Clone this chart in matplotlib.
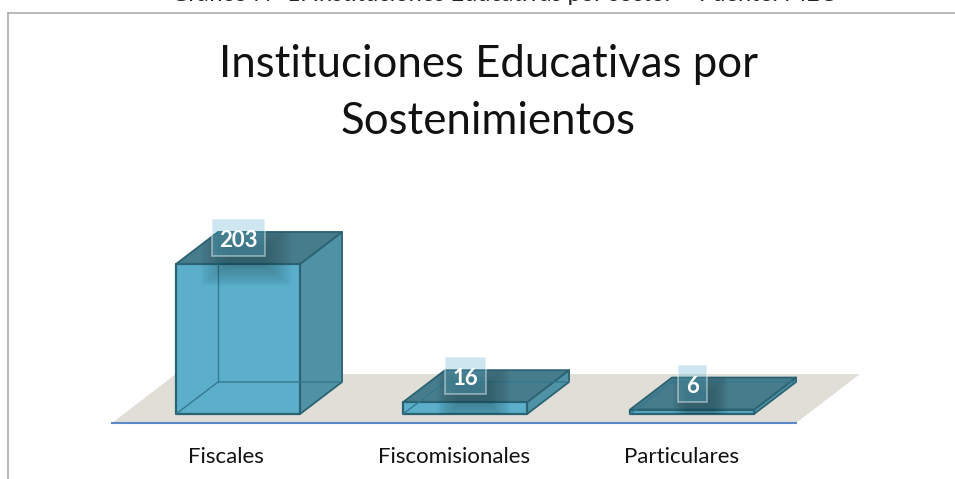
import numpy as np
import matplotlib
matplotlib.use("Agg")
import matplotlib.pyplot as plt
from matplotlib.patches import Polygon, Rectangle

plt.rcParams["font.family"] = ["Lato", "DejaVu Sans"]

categories = ["Fiscales", "Fiscomisionales", "Particulares"]
values = [203, 16, 6]
chart_title = "Instituciones Educativas por\nSostenimientos"
caption = "Gráfico Nº 1: Instituciones Educativas por sector – Fuente: MEC"

W, H = 955, 479
PX_Y = 0.739
PX_X = 228.0
BAR_STEP = 227 / 228
BAR_W = 0.544
BAR_OFF = -0.219
DX = 0.184
DY = 43.3
FLOOR_DX = 0.28
Y_LOW = -12.2
Y_HIGH = 250.0
FLOOR_BACK = 54.0

FRONT = "#5bafcb"
TOP = "#467c8b"
SIDE = "#4f92a6"
EDGE = "#2b6373"
INNER = "#35788f"


def draw_box(ax, x0, val):
    x1 = x0 + BAR_W
    kw = dict(clip_on=False, joinstyle="round")
    ax.add_patch(Polygon([(x1, 0), (x1 + DX, DY), (x1 + DX, val + DY), (x1, val)],
                         fc=SIDE, ec=EDGE, lw=1.3, zorder=3, **kw))
    ax.add_patch(Polygon([(x0, val), (x1, val), (x1 + DX, val + DY), (x0 + DX, val + DY)],
                         fc=TOP, ec=EDGE, lw=1.3, zorder=3, **kw))
    ax.add_patch(Polygon([(x0, 0), (x1, 0), (x1, val), (x0, val)],
                         fc=FRONT, ec=EDGE, lw=1.6, zorder=4, **kw))
    # back edges seen through the box
    ax.plot([x0 + DX, x0 + DX], [DY, val + DY], color=INNER, lw=1, zorder=5, clip_on=False)
    ax.plot([x0, x0 + DX, x1 + DX], [0, DY, DY], color=INNER, lw=1, zorder=5, clip_on=False)


def draw_shadow(ax, x0, x, val, half_w):
    x1 = x0 + BAR_W
    outline = Polygon([(x0, 0), (x1, 0), (x1, val), (x1 + DX, val + DY), (x0 + DX, val + DY), (x0, val)],
                      fc="none", ec="none", zorder=0)
    ax.add_patch(outline)
    xc = x + 8 / PX_X
    yc = val + 8 / PX_Y
    for grow in np.linspace(1.5, 0.5, 20):
        w = half_w * grow + 6 / PX_X
        h = 27.0 * grow
        rect = Rectangle((xc - w, yc - h), 2 * w, 2 * h, fc="#1c3a44", ec="none", alpha=0.02, zorder=6)
        ax.add_patch(rect)
        rect.set_clip_path(outline)


def draw_label(ax, x, val, text):
    half_w = (17 + 12 * len(text)) / 2 / PX_X
    yc = val + 26.5 / PX_Y
    half_h = 18.5 / PX_Y
    ax.add_patch(Rectangle((x - half_w, yc - half_h), 2 * half_w, 2 * half_h,
                           fc=FRONT, ec="none", alpha=0.3, zorder=7, clip_on=False))
    ax.add_patch(Rectangle((x - half_w, yc - half_h), 2 * half_w, 2 * half_h,
                           fc="none", ec="#ffffff", alpha=0.45, lw=1.2, zorder=8, clip_on=False))
    ax.text(x, yc - 4, text, color="white", fontsize=16, fontweight="bold",
            ha="center", va="center", zorder=9, clip_on=False)


def main():
    fig = plt.figure(figsize=(W / 100, H / 100), dpi=100)

    # chart frame and the caption cut off by the crop
    fig.add_artist(plt.Line2D([7.5 / W, 7.5 / W], [0, 1 - 12.5 / H], color="#a6a6a6", lw=1.1))
    fig.add_artist(plt.Line2D([7.5 / W, 1], [1 - 12.5 / H, 1 - 12.5 / H], color="#a6a6a6", lw=1.1))
    fig.text(503 / W, 1 - 0.8 / H, caption, ha="center", va="baseline", fontsize=17, color="#222222")

    top_px = 423 - (Y_HIGH - Y_LOW) * PX_Y
    ax = fig.add_axes([112 / W, 1 - 423 / H, 684 / W, (423 - top_px) / H])
    ax.set_xlim(-0.5, 2.5)
    ax.set_ylim(Y_LOW, Y_HIGH)
    ax.patch.set_alpha(0)
    for side in ["top", "left", "right"]:
        ax.spines[side].set_visible(False)
    ax.spines["bottom"].set_color("#5b8ac6")
    ax.spines["bottom"].set_linewidth(1.5)
    ax.spines["bottom"].set_zorder(2)
    ax.set_yticks([])
    ax.set_xticks(range(len(categories)))
    ax.set_xticklabels(categories, fontsize=16, color="#111111")
    ax.tick_params(axis="x", length=0, pad=17)

    ax.add_patch(Polygon([(-0.5, Y_LOW), (2.5, Y_LOW), (2.5 + FLOOR_DX, FLOOR_BACK), (-0.5 + FLOOR_DX, FLOOR_BACK)],
                         fc="#e0ded7", ec="none", zorder=1, clip_on=False))

    for i, val in enumerate(values):
        draw_box(ax, i * BAR_STEP + BAR_OFF, val)
    for i, val in enumerate(values):
        x = i * BAR_STEP + 0.054
        half_w = (17 + 12 * len(str(val))) / 2 / PX_X
        draw_shadow(ax, i * BAR_STEP + BAR_OFF, x, val, half_w)
        draw_label(ax, x, val, str(val))

    fig.text(488 / W, 1 - 93 / H, chart_title, ha="center", va="center", fontsize=31.5,
             color="#111111", linespacing=1.49)

    fig.savefig("out.png", dpi=100)


if __name__ == "__main__":
    main()
